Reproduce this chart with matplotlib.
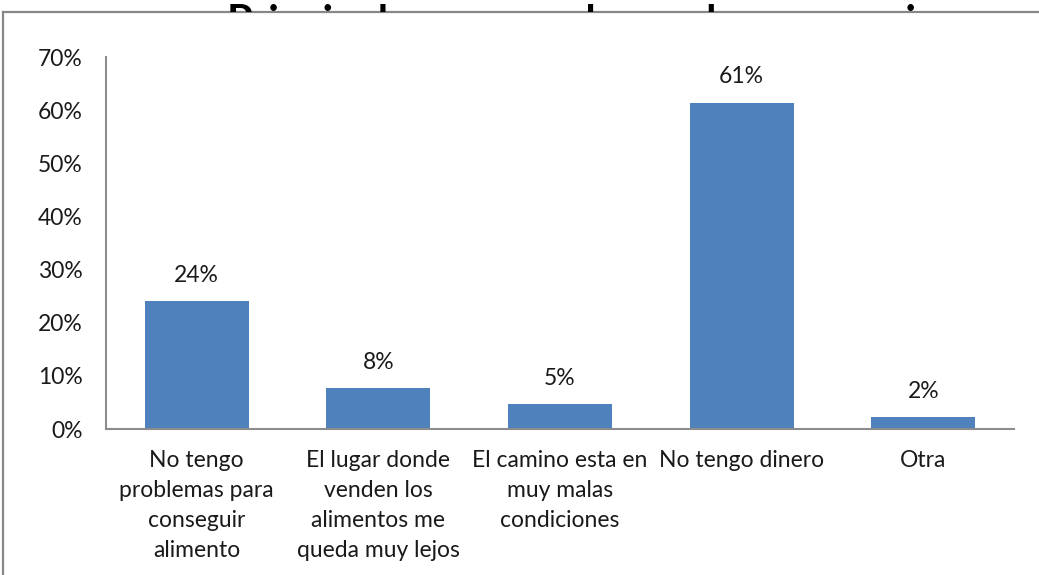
import matplotlib
matplotlib.use("Agg")
import matplotlib.pyplot as plt
from matplotlib.lines import Line2D
from matplotlib.patches import Rectangle
from matplotlib.ticker import FuncFormatter

categories = [
    "No tengo\nproblemas para\nconseguir\nalimento",
    "El lugar donde\nvenden los\nalimentos me\nqueda muy lejos",
    "El camino esta en\nmuy malas\ncondiciones",
    "No tengo dinero",
    "Otra",
]
values = [0.241, 0.077, 0.047, 0.614, 0.022]
yticks = [0, 0.1, 0.2, 0.3, 0.4, 0.5, 0.6, 0.7]
title = "Principal causa por la que hay carencia"

W, H, DPI = 1039, 575, 100
plt.rcParams['font.family'] = ['Lato', 'DejaVu Sans']
fig = plt.figure(figsize=(W / DPI, H / DPI), dpi=DPI)
fig.patch.set_facecolor('white')

def fx(px):
    return px / W

def fy(py):
    return 1 - py / H

# axes: left 106, right 1014, top 57, bottom 429 (pixels)
ax = fig.add_axes([fx(106), fy(429), fx(1014 - 106), (429 - 57) / H])
x = list(range(len(categories)))
bars = ax.bar(x, values, width=0.573, color='#4F81BD', zorder=2)
ax.set_xlim(-0.5, len(categories) - 0.5)
ax.set_ylim(0, 0.7)
ax.set_yticks(yticks)
ax.yaxis.set_major_formatter(FuncFormatter(lambda v, p: f"{v*100:.0f}%"))
ax.set_xticks(x)
ax.set_xticklabels(categories, fontsize=16.5, linespacing=1.53, color='#1a1a1a')
ax.tick_params(axis='x', length=0, pad=15)
ax.tick_params(axis='y', length=0, pad=17, labelsize=16.5, labelcolor='#1a1a1a')
for s in ['top', 'right']:
    ax.spines[s].set_visible(False)
for s in ['left', 'bottom']:
    ax.spines[s].set_color('#8c8c8c')
    ax.spines[s].set_linewidth(1.5)
ax.bar_label(bars, labels=[f"{v*100:.0f}%" for v in values], padding=11,
             fontsize=16.5, color='#1a1a1a')

# clipped title (only tops visible above border)
t = fig.text(fx(227), fy(4), title, fontsize=30, fontweight='bold',
             ha='left', va='top', color='black')
clip = Rectangle((0, fy(12)), 1, 1 - fy(12), transform=fig.transFigure)
t.set_clip_path(clip)

# outer border (left and top visible)
fig.add_artist(Line2D([fx(3), fx(3)], [0, fy(12)], color='#878787', lw=1.6,
                      transform=fig.transFigure))
fig.add_artist(Line2D([fx(3), 1], [fy(12), fy(12)], color='#878787', lw=1.6,
                      transform=fig.transFigure))

fig.savefig("out.png", dpi=DPI)
